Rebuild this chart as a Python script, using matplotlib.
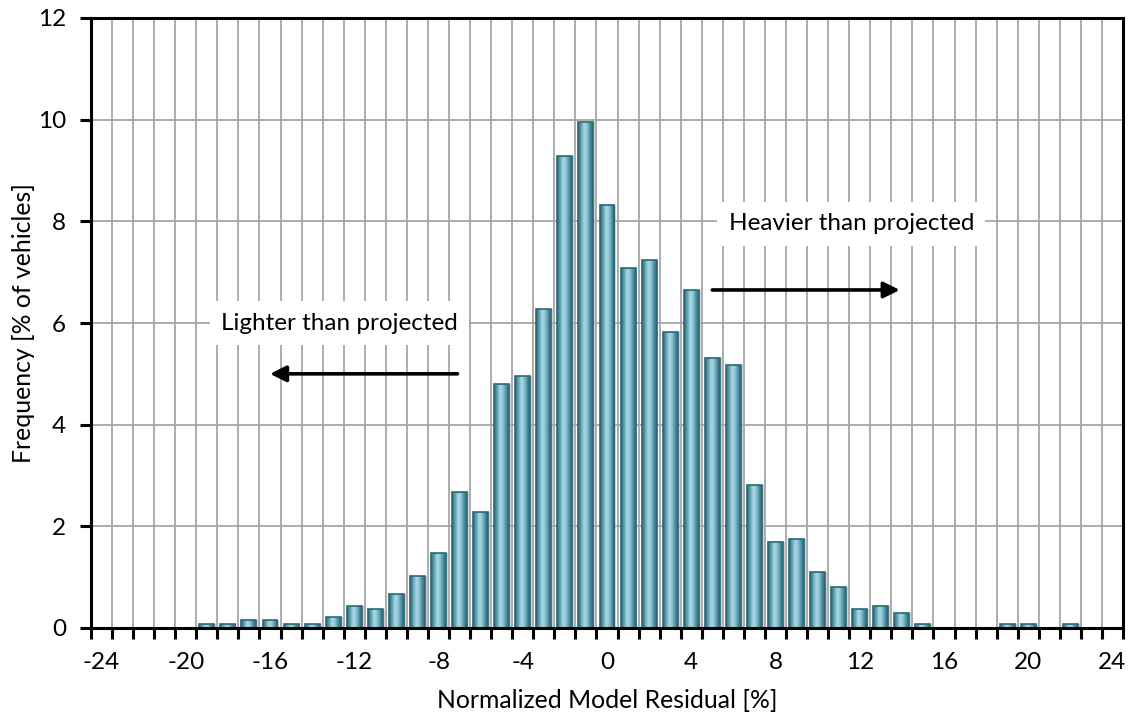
import numpy as np
import matplotlib
matplotlib.use("Agg")
import matplotlib.pyplot as plt
from matplotlib.colors import LinearSegmentedColormap

plt.rcParams['font.family'] = ['Lato', 'DejaVu Sans']
plt.rcParams['axes.unicode_minus'] = False

# ---- data ----
residual_bins = list(range(-24, 25))
frequency = [0, 0, 0, 0, 0, 0.07, 0.07, 0.15, 0.15, 0.07, 0.07, 0.22, 0.44, 0.37,
             0.66, 1.03, 1.47, 2.67, 2.28, 4.80, 4.95, 6.27, 9.29, 9.95, 8.33,
             7.08, 7.23, 5.83, 6.64, 5.32, 5.17, 2.81, 1.69, 1.76, 1.10, 0.81,
             0.37, 0.44, 0.29, 0.07, 0, 0, 0, 0.07, 0.07, 0, 0.07, 0, 0]
x_tick_values = [-24, -20, -16, -12, -8, -4, 0, 4, 8, 12, 16, 20, 24]
y_tick_values = [0, 2, 4, 6, 8, 10, 12]
x_label = "Normalized Model Residual [%]"
y_label = "Frequency [% of vehicles]"
left_note = "Lighter than projected"
right_note = "Heavier than projected"

fig = plt.figure(figsize=(11.3, 7.13), dpi=100)
ax = fig.add_axes([91/1130, 85/713, (1123-91)/1130, (628-18)/713])

width = 0.71
# shadow
ax.bar(np.array(residual_bins) + 0.09, np.array(frequency), width=width,
       color='#b5b5b5', alpha=0.6, zorder=2, linewidth=0)
bars = ax.bar(residual_bins, frequency, width=width, color='#5fa3b3',
              edgecolor='#2a6877', linewidth=1.2, zorder=3)

cmap = LinearSegmentedColormap.from_list('cyl', [
    (0.0, '#2c6978'), (0.15, '#4f91a1'), (0.42, '#aadbe6'),
    (0.6, '#8fc7d4'), (0.85, '#468798'), (1.0, '#2c6978')])
grad = np.linspace(0, 1, 64).reshape(1, -1)
for b in bars:
    h = b.get_height()
    if h <= 0:
        continue
    x0 = b.get_x()
    im = ax.imshow(grad, cmap=cmap, aspect='auto', interpolation='bicubic',
                   extent=[x0, x0 + b.get_width(), 0, h], zorder=3.5)
    im.set_clip_path(b)
    b.set_facecolor('none')
    b.set_zorder(4)

ax.set_xlim(-24.5, 24.5)
ax.set_ylim(0, 12)

ax.set_xticks(x_tick_values)
ax.set_xticks(np.arange(-24.5, 25, 1), minor=True)
ax.set_yticks(y_tick_values)
ax.tick_params(axis='x', which='major', length=0, pad=17, labelsize=17.5)
ax.tick_params(axis='x', which='minor', length=8, width=2.2, direction='out')
ax.tick_params(axis='y', which='major', length=8, width=2.2, direction='out',
               pad=10, labelsize=17.5)

ax.grid(True, which='minor', axis='x', color='#a6a6a6', linewidth=1.3, zorder=0)
ax.grid(True, which='major', axis='y', color='#a6a6a6', linewidth=1.3, zorder=0)
ax.grid(False, which='major', axis='x')
ax.set_axisbelow(True)

for s in ax.spines.values():
    s.set_linewidth(2.2)
    s.set_color('black')
    s.set_zorder(6)

ax.set_xlabel(x_label, fontsize=17.8, labelpad=12)
ax.set_ylabel(y_label, fontsize=17.8, labelpad=2)

box = dict(facecolor='white', edgecolor='none', pad=8)
ax.text(-12.7, 6.0, left_note, fontsize=17.5, ha='center', va='center', bbox=box, zorder=7)
ax.text(11.6, 7.95, right_note, fontsize=17.5, ha='center', va='center', bbox=box, zorder=7)

ax.annotate('', xy=(-16.0, 5.0), xytext=(-7.1, 5.0),
            arrowprops=dict(arrowstyle='-|>', lw=2.6, color='black', mutation_scale=24,
                            shrinkA=0, shrinkB=0), zorder=7)
ax.annotate('', xy=(13.9, 6.65), xytext=(5.0, 6.65),
            arrowprops=dict(arrowstyle='-|>', lw=2.6, color='black', mutation_scale=24,
                            shrinkA=0, shrinkB=0), zorder=7)

fig.savefig('out.png', dpi=100)
